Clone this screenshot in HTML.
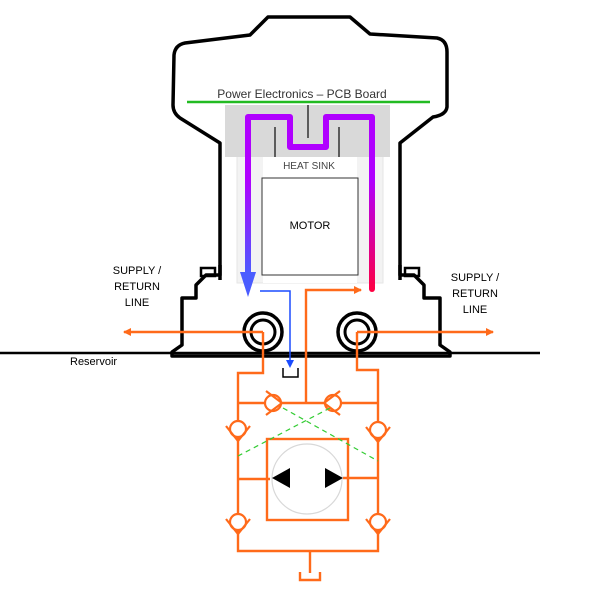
<!DOCTYPE html>
<html><head><style>body{margin:0;background:#fff}svg{display:block}text{font-family:"Liberation Sans",sans-serif}</style></head><body>
<svg width="600" height="600" viewBox="0 0 600 600">
<defs>
<linearGradient id="gl" x1="0" y1="0" x2="0" y2="1"><stop offset="0" stop-color="#b000ff"/><stop offset="1" stop-color="#4a5cff"/></linearGradient>
<linearGradient id="gr" x1="0" y1="0" x2="0" y2="1"><stop offset="0" stop-color="#b000ff"/><stop offset="1" stop-color="#ff0040"/></linearGradient>
<marker id="ao" markerWidth="8" markerHeight="8" refX="7" refY="4" orient="auto" markerUnits="userSpaceOnUse"><path d="M0,0L8,4L0,8Z" fill="#ff6a1a"/></marker>
</defs>
<rect x="237" y="155" width="146" height="128" fill="#f3f3f3" stroke="#e6e6e6"/>
<rect x="263" y="155" width="94" height="128" fill="#fff"/>
<rect x="225" y="105" width="165" height="52" fill="#d9d9d9"/>
<rect x="262" y="178" width="96" height="97" fill="#fff" stroke="#333" stroke-width="1"/>
<text x="310" y="229" font-size="11" text-anchor="middle">MOTOR</text>
<text x="309" y="169" font-size="10" text-anchor="middle" fill="#444">HEAT SINK</text>
<path d="M220,280 L220,143 L180,118 Q173,113 173,105 L174,55 Q175,45 185,43 L250,35 L268,17 L350,17 L370,34 L437,38 Q447,40 447,52 L447,107 Q446,115 433,117 L400,143 L400,280" fill="none" stroke="#000" stroke-width="3.5" stroke-linejoin="round"/>
<path d="M220,265 L220,275 L206,275 L196,285 L196,298 L182,298 L182,345 L172,352 L172,356 L450,356 L450,352 L440,345 L440,298 L424,298 L424,285 L414,275 L400,275 L400,265" fill="none" stroke="#000" stroke-width="3.5" stroke-linejoin="round"/>
<rect x="201" y="268" width="14" height="8" fill="none" stroke="#000" stroke-width="2.5"/>
<rect x="405" y="268" width="14" height="8" fill="none" stroke="#000" stroke-width="2.5"/>
<line x1="0" y1="353" x2="540" y2="353" stroke="#000" stroke-width="2.5"/>
<circle cx="263" cy="332" r="19" fill="none" stroke="#000" stroke-width="3.5"/>
<circle cx="263" cy="332" r="12" fill="none" stroke="#000" stroke-width="3"/>
<circle cx="357" cy="332" r="19" fill="none" stroke="#000" stroke-width="3.5"/>
<circle cx="357" cy="332" r="12" fill="none" stroke="#000" stroke-width="3"/>
<line x1="187" y1="102" x2="430" y2="102" stroke="#22bb22" stroke-width="2.5"/>
<text x="302" y="98" font-size="12" text-anchor="middle" fill="#333">Power Electronics – PCB Board</text>
<line x1="308" y1="105" x2="308" y2="138" stroke="#333" stroke-width="1.5"/>
<line x1="275" y1="127" x2="275" y2="157" stroke="#333" stroke-width="1.5"/>
<line x1="339" y1="127" x2="339" y2="157" stroke="#333" stroke-width="1.5"/>
<path d="M248,275 L248,117 L290,117 L290,147 L326,147 L326,117 L372,117 L372,285" fill="none" stroke="#b000ff" stroke-width="6" stroke-linejoin="round"/>
<rect x="245" y="180" width="6" height="95" fill="url(#gl)"/>
<rect x="369" y="180" width="6" height="112" rx="3" fill="url(#gr)"/>
<path d="M240,272 L256,272 L248,297Z" fill="#4a5cff"/>
<path d="M260,291 L290,291 L290,362" fill="none" stroke="#1a4cff" stroke-width="1.5"/>
<path d="M286,360 L294,360 L290,368Z" fill="#1a4cff"/>
<path d="M283,368 L283,377 L298,377 L298,368" fill="none" stroke="#000" stroke-width="1.5"/>
<g font-size="11" text-anchor="middle"><text x="137" y="274">SUPPLY /</text><text x="137" y="290">RETURN</text><text x="137" y="306">LINE</text>
<text x="475" y="281">SUPPLY /</text><text x="475" y="297">RETURN</text><text x="475" y="313">LINE</text></g>
<text x="70" y="365" font-size="11">Reservoir</text>
<g stroke="#ff6a1a" stroke-width="2.4" fill="none">
<line x1="263" y1="332" x2="124" y2="332" marker-end="url(#ao)"/>
<line x1="357" y1="332" x2="493" y2="332" marker-end="url(#ao)"/>
<path d="M306,403 L306,290 L361,290" marker-end="url(#ao)"/>
<path d="M263,332 L263,373 L238,373 L238,551 L378,551 L378,370 L357,370 L357,332"/>
<line x1="238" y1="403" x2="378" y2="403"/>
<rect x="267" y="439" width="81" height="81"/>
<line x1="238" y1="479" x2="270" y2="479"/><line x1="343" y1="478" x2="378" y2="478"/>
<path d="M310,551 L310,573 M300,572 L300,580 L320,580 L320,572"/>
</g>
<g stroke="#ff6a1a" stroke-width="2.2" fill="#fff">
<circle cx="273" cy="403" r="8"/><path d="M266,391 L282,403 L266,415" fill="none"/>
<circle cx="333" cy="403" r="8"/><path d="M340,391 L324,403 L340,415" fill="none"/>
<circle cx="238" cy="429" r="8"/><path d="M226,426 L238,441 L250,426" fill="none"/>
<circle cx="378" cy="430" r="8"/><path d="M366,427 L378,442 L390,427" fill="none"/>
<circle cx="238" cy="522" r="8"/><path d="M226,519 L238,534 L250,519" fill="none"/>
<circle cx="378" cy="522" r="8"/><path d="M366,519 L378,534 L390,519" fill="none"/>
</g>
<circle cx="307" cy="479" r="35" fill="none" stroke="#d8d8d8" stroke-width="1.2"/>
<path d="M272,478 L290,468 L290,488Z" fill="#000"/>
<path d="M343,478 L325,468 L325,488Z" fill="#000"/>
<g stroke="#33cc33" stroke-width="1.2" stroke-dasharray="5,4"><line x1="283" y1="408" x2="378" y2="461"/><line x1="330" y1="408" x2="238" y2="456"/></g>
</svg>
</body></html>
